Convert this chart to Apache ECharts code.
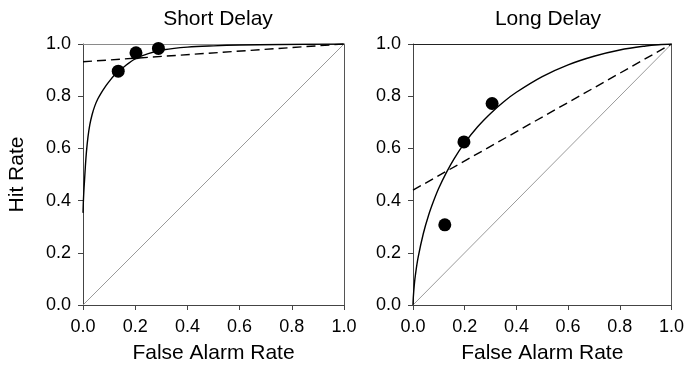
<!DOCTYPE html>
<html>
<head>
<meta charset="utf-8">
<script src="https://cdn.jsdelivr.net/npm/echarts@6/dist/echarts.min.js"></script>
<style>
  html, body { margin: 0; padding: 0; background: #fff; }
  #chart { width: 687px; height: 379px; }
</style>
</head>
<body>
<div id="chart"></div>
<script>
// Panel titles, axis names and shared ticks
const panelTitles = ['Short Delay', 'Long Delay'];
const xAxisName = 'False Alarm Rate';
const yAxisName = 'Hit Rate';
const tickValues = [0, 0.2, 0.4, 0.6, 0.8, 1.0];

// Observed (false alarm, hit) pairs
const shortPoints = [[0.135, 0.896], [0.203, 0.966], [0.289, 0.983]];
const longPoints = [[0.123, 0.307], [0.197, 0.625], [0.306, 0.772]];

// Fitted curvilinear ROC functions
const shortCurve = [
  [0, 0.353], [0.001, 0.385], [0.002, 0.41], [0.004, 0.448], [0.006, 0.48],
  [0.009, 0.53], [0.013, 0.585], [0.019, 0.643], [0.026, 0.69], [0.035, 0.73],
  [0.045, 0.762], [0.057, 0.79], [0.07, 0.813], [0.083, 0.833], [0.096, 0.851],
  [0.121, 0.881], [0.16, 0.915], [0.2, 0.943], [0.25, 0.963], [0.31, 0.978],
  [0.4, 0.988], [0.5, 0.993], [0.6, 0.996], [0.75, 0.998], [1, 1]
];
const longCurve = [
  [0, 0], [0.001, 0.026], [0.005, 0.077], [0.01, 0.12], [0.02, 0.183],
  [0.04, 0.274], [0.06, 0.343], [0.08, 0.399], [0.1, 0.448], [0.13, 0.509],
  [0.16, 0.562], [0.2, 0.621], [0.25, 0.683], [0.3, 0.734], [0.35, 0.778],
  [0.4, 0.815], [0.5, 0.875], [0.6, 0.92], [0.7, 0.953], [0.8, 0.977],
  [0.9, 0.9925], [0.95, 0.9974], [1, 1]
];

// Fitted linear ROC functions
const shortLinear = [[0, 0.932], [1, 1]];
const longLinear = [[0, 0.44], [1, 1]];

// Chance diagonal
const chanceLine = [[0, 0], [1, 1]];

const FONT = 'Liberation Sans, Arial, sans-serif';
const axisColor = '#444';
const interval = tickValues[1] - tickValues[0];
const fmt = v => v.toFixed(1);

const grids = [
  { left: 83, top: 44, width: 261, height: 261 },
  { left: 413, top: 44, width: 260, height: 261 }
];

function mainX(i) {
  return {
    type: 'value', gridIndex: i, min: tickValues[0], max: tickValues[tickValues.length - 1],
    interval: interval, position: 'bottom',
    name: xAxisName, nameLocation: 'middle', nameGap: 38,
    nameTextStyle: { fontFamily: FONT, fontSize: 21, color: '#000' },
    axisLine: { show: true, onZero: false, lineStyle: { color: axisColor, width: 1 } },
    axisTick: { show: true, inside: false, length: 5, lineStyle: { color: axisColor } },
    axisLabel: { formatter: fmt, margin: 13, fontFamily: FONT, fontSize: 18, color: '#000' },
    splitLine: { show: false }
  };
}
function frameX(i, color) {
  return {
    type: 'value', gridIndex: i, min: 0, max: 1, position: 'top',
    axisLine: { show: true, onZero: false, lineStyle: { color: color, width: 1 } },
    axisTick: { show: false }, axisLabel: { show: false }, splitLine: { show: false }
  };
}
function mainY(i, withName) {
  const ax = {
    type: 'value', gridIndex: i, min: tickValues[0], max: tickValues[tickValues.length - 1],
    interval: interval, position: 'left',
    axisLine: { show: true, onZero: false, lineStyle: { color: axisColor, width: 1 } },
    axisTick: { show: true, inside: false, length: 5, lineStyle: { color: axisColor } },
    axisLabel: { formatter: fmt, margin: 12, fontFamily: FONT, fontSize: 18, color: '#000' },
    splitLine: { show: false }
  };
  if (withName) {
    ax.name = yAxisName;
    ax.nameLocation = 'middle';
    ax.nameGap = 55;
    ax.nameTextStyle = { fontFamily: FONT, fontSize: 21, color: '#000' };
  }
  return ax;
}
function frameY(i, color) {
  return {
    type: 'value', gridIndex: i, min: 0, max: 1, position: 'right',
    axisLine: { show: true, onZero: false, lineStyle: { color: color, width: 1 } },
    axisTick: { show: false }, axisLabel: { show: false }, splitLine: { show: false }
  };
}

function panelSeries(i, points, curve, linear) {
  const ax = i * 2;
  return [
    {
      type: 'line', xAxisIndex: ax, yAxisIndex: ax, data: chanceLine,
      symbol: 'none', silent: true, z: 1,
      lineStyle: { color: '#9a9a9a', width: 1 }
    },
    {
      type: 'line', xAxisIndex: ax, yAxisIndex: ax, data: linear,
      symbol: 'none', silent: true, z: 2,
      lineStyle: { color: '#000', width: 1.4, type: [9, 5] }
    },
    {
      type: 'line', xAxisIndex: ax, yAxisIndex: ax, data: curve,
      symbol: 'none', silent: true, z: 3, smooth: 0.35,
      lineStyle: { color: '#000', width: 1.4 }
    },
    {
      type: 'scatter', xAxisIndex: ax, yAxisIndex: ax, data: points,
      symbol: 'circle', symbolSize: 13, z: 4,
      itemStyle: { color: '#000', opacity: 1 }
    }
  ];
}

const option = {
  animation: false,
  backgroundColor: '#fff',
  title: [
    { text: panelTitles[0], left: 213, top: 4, textAlign: 'center',
      textStyle: { fontFamily: FONT, fontSize: 21, fontWeight: 'normal', color: '#000' } },
    { text: panelTitles[1], left: 543, top: 4, textAlign: 'center',
      textStyle: { fontFamily: FONT, fontSize: 21, fontWeight: 'normal', color: '#000' } }
  ],
  grid: grids,
  // main axes sit at even indices, top/right frame edges at odd indices
  xAxis: [mainX(0), frameX(0, '#8a8a8a'), mainX(1), frameX(1, '#222')],
  yAxis: [mainY(0, true), frameY(0, '#555'), mainY(1, false), frameY(1, '#555')],
  series: [
    ...panelSeries(0, shortPoints, shortCurve, shortLinear),
    ...panelSeries(1, longPoints, longCurve, longLinear)
  ]
};

const chart = echarts.init(document.getElementById('chart'), null, { renderer: 'canvas' });
chart.setOption(option);
</script>
</body>
</html>
